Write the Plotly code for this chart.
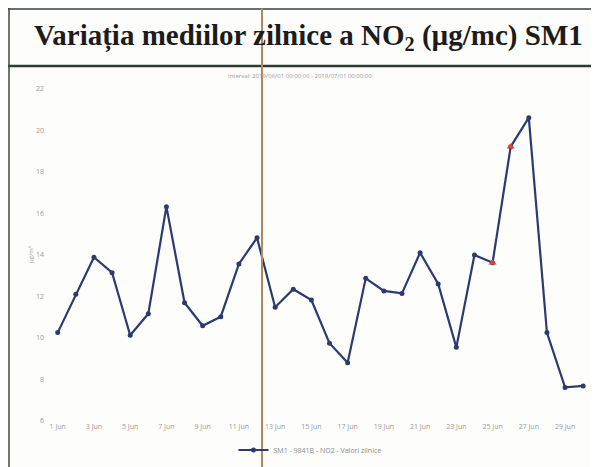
import plotly.graph_objects as go

# ---- data ----
days = [f"2019-06-{d:02d}" for d in range(1, 31)]
no2_values = [10.26, 12.11, 13.89, 13.15, 10.13, 11.17, 16.33, 11.70, 10.59, 11.03,
              13.57, 14.83, 11.48, 12.35, 11.83, 9.75, 8.81, 12.88, 12.27, 12.15,
              14.11, 12.60, 9.55, 14.00, 13.63, 19.22, 20.62, 10.26, 7.62, 7.69]
flagged_idx = [24, 25]  # 25 Jun, 26 Jun (red markers)
series_name = "SM1 - 9841B - NO2 - Valori zilnice"
title_text = "<b>Variația mediilor zilnice a NO<sub>2</sub> (µg/mc) SM1</b>"
subtitle_text = "Interval: 2019/06/01 00:00:00 - 2019/07/01 00:00:00"
y_ticks = [6, 8, 10, 12, 14, 16, 18, 20, 22]

OFF = 8  # page body margin
W, H = 599 - OFF, 467 - OFF
L, R, T, B = 37, 3, 81, 46

def px(x):
    return (x - OFF - L) / (W - L - R)

def py(y):
    return (H - B - (y - OFF)) / (H - T - B)

navy = "#2c3a72"
fig = go.Figure()
fig.add_trace(go.Scatter(
    x=days, y=no2_values, mode="lines+markers", name=series_name,
    line=dict(color=navy, width=2.2), marker=dict(color=navy, size=5),
))
fig.add_trace(go.Scatter(
    x=[days[i] for i in flagged_idx], y=[no2_values[i] for i in flagged_idx],
    mode="markers", showlegend=False,
    marker=dict(color="#e5452a", size=7, symbol="triangle-up"),
))

shapes = [
    dict(type="line", xref="paper", yref="paper", x0=px(8), x1=px(599), y0=py(9), y1=py(9),
         line=dict(color="#3a3f3a", width=1.5)),
    dict(type="line", xref="paper", yref="paper", x0=px(8), x1=px(599), y0=py(66), y1=py(66),
         line=dict(color="#2f3a33", width=2.5)),
    dict(type="line", xref="paper", yref="paper", x0=px(9), x1=px(9), y0=py(8), y1=py(467),
         line=dict(color="#444444", width=1.5)),
    dict(type="line", xref="paper", yref="paper", x0=px(262), x1=px(262), y0=py(8), y1=py(467),
         line=dict(color="#b08a5e", width=2)),
]

annotations = [
    dict(text=title_text, xref="paper", yref="paper", x=px(308), y=py(37), showarrow=False,
         xanchor="center", yanchor="middle",
         font=dict(family="Liberation Serif", size=29, color="#1c1c1c")),
    dict(text=subtitle_text, xref="paper", yref="paper", x=px(300), y=py(76), showarrow=False,
         xanchor="center", yanchor="middle",
         font=dict(family="Open Sans", size=6, color="#9a9a9a")),
    dict(text="µg/m³", xref="paper", yref="paper", x=px(31), y=py(255), showarrow=False,
         textangle=-90, xanchor="center", yanchor="middle",
         font=dict(family="Open Sans", size=6, color="#9a9a9a")),
]

fig.update_layout(
    width=W, height=H,
    margin=dict(l=L, r=R, t=T, b=B),
    paper_bgcolor="#fdfdfb", plot_bgcolor="#fdfdfb",
    showlegend=True,
    legend=dict(orientation="h", x=px(310), y=py(450), xanchor="center", yanchor="middle",
                font=dict(family="Open Sans", size=7, color="#8a8a8a"),
                bgcolor="rgba(0,0,0,0)"),
    shapes=shapes, annotations=annotations,
    xaxis=dict(type="date", range=["2019-05-31 07:10", "2019-06-30 17:00"],
               tick0="2019-06-01", dtick=2 * 86400000, tickformat="%-d %b",
               showgrid=False, zeroline=False, showline=False, ticks="",
               tickfont=dict(family="Open Sans", size=7, color="#9a9a9a")),
    yaxis=dict(range=[6, 22], tickvals=y_ticks, showgrid=False, zeroline=False,
               showline=False, ticks="",
               tickfont=dict(family="Open Sans", size=7, color="#9a9a9a")),
)

fig.write_html("out.html")
